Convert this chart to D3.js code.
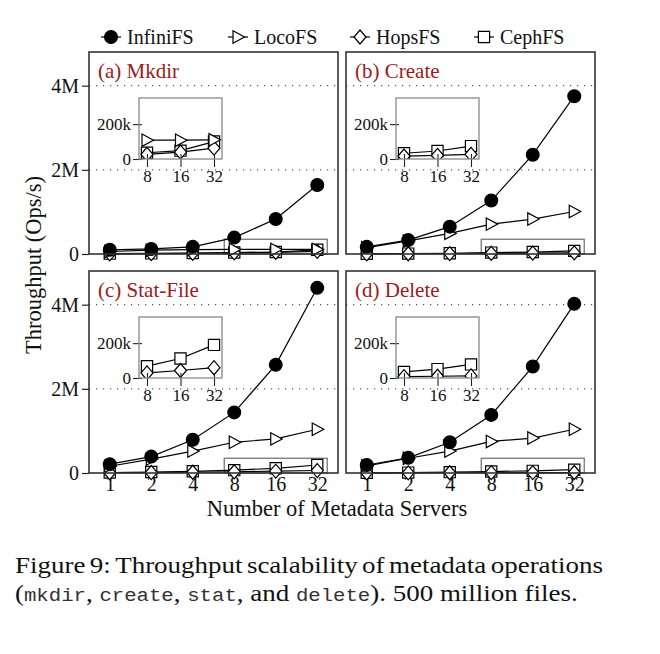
<!DOCTYPE html>
<html>
<head>
<meta charset="utf-8">
<script src="https://cdn.jsdelivr.net/npm/d3@7"></script>
<style>
  html, body { margin: 0; padding: 0; background: #fff; }
  svg { display: block; }
</style>
</head>
<body>
<script>
// ---------------- data ----------------
const servers = [1, 2, 4, 8, 16, 32];
const xTickLabels = ["1", "2", "4", "8", "16", "32"];
const insetServers = [8, 16, 32];
const systems = ["InfiniFS", "LocoFS", "HopsFS", "CephFS"];
const panelTitles = ["(a) Mkdir", "(b) Create", "(c) Stat-File", "(d) Delete"];
const yTickValues = [0, 2e6, 4e6];
const yTickLabels = ["0", "2M", "4M"];
const insetYTickValues = [0, 200e3];
const insetYTickLabels = ["0", "200k"];

const mkdirInfiniFS = [0.10e6, 0.12e6, 0.17e6, 0.39e6, 0.83e6, 1.64e6];
const mkdirLocoFS   = [60e3, 90e3, 105e3, 108e3, 108e3, 110e3];
const mkdirHopsFS   = [5e3, 9e3, 16e3, 27e3, 40e3, 62e3];
const mkdirCephFS   = [8e3, 14e3, 22e3, 36e3, 48e3, 100e3];

const createInfiniFS = [0.17e6, 0.33e6, 0.65e6, 1.27e6, 2.36e6, 3.75e6];
const createLocoFS   = [0.15e6, 0.31e6, 0.49e6, 0.71e6, 0.83e6, 1.01e6];
const createHopsFS   = [3e3, 6e3, 10e3, 17e3, 21e3, 27e3];
const createCephFS   = [5e3, 9e3, 18e3, 33e3, 46e3, 74e3];

const statInfiniFS = [0.21e6, 0.39e6, 0.79e6, 1.44e6, 2.57e6, 4.40e6];
const statLocoFS   = [0.16e6, 0.33e6, 0.52e6, 0.73e6, 0.81e6, 1.04e6];
const statHopsFS   = [6e3, 11e3, 18e3, 29e3, 43e3, 59e3];
const statCephFS   = [12e3, 22e3, 40e3, 68e3, 112e3, 190e3];

const deleteInfiniFS = [0.19e6, 0.36e6, 0.73e6, 1.38e6, 2.53e6, 4.02e6];
const deleteLocoFS   = [0.17e6, 0.35e6, 0.52e6, 0.75e6, 0.83e6, 1.04e6];
const deleteHopsFS   = [2e3, 4e3, 6e3, 8e3, 10e3, 12e3];
const deleteCephFS   = [5e3, 10e3, 20e3, 35e3, 51e3, 78e3];

const captionLine1 = "Figure 9: Throughput scalability of metadata operations";
const captionLine2 = [
  ["(", false], ["mkdir", true], [", ", false], ["create", true], [", ", false],
  ["stat", true], [", and ", false], ["delete", true], ["). 500 million files.", false]
];

// ---------------- layout ----------------
const W = 660, H = 654;
const serif = "'Liberation Serif', 'Times New Roman', serif";
const mono = "'Liberation Mono', 'Courier New', monospace";
const colX = [89, 346], rowY = [52, 271];
const PW = 249, PH = 202;
const titleColor = "#9b1b1b";

const panels = [
  { title: panelTitles[0], col: 0, row: 0, data: [mkdirInfiniFS, mkdirLocoFS, mkdirHopsFS, mkdirCephFS] },
  { title: panelTitles[1], col: 1, row: 0, data: [createInfiniFS, createLocoFS, createHopsFS, createCephFS] },
  { title: panelTitles[2], col: 0, row: 1, data: [statInfiniFS, statLocoFS, statHopsFS, statCephFS] },
  { title: panelTitles[3], col: 1, row: 1, data: [deleteInfiniFS, deleteLocoFS, deleteHopsFS, deleteCephFS] }
];

const svg = d3.select("body").append("svg").attr("width", W).attr("height", H)
  .style("font-family", serif);
const defs = svg.append("defs");

// marker shapes
function markerPath(sys) {
  switch (sys) {
    case "InfiniFS": return d3.symbol().type(d3.symbolCircle).size(Math.PI * 6.4 * 6.4)();
    case "LocoFS": return "M-5,-6.2L6.5,0L-5,6.2Z";
    case "HopsFS": return "M0,-7L6,0L0,7L-6,0Z";
    case "CephFS": return "M-5.6,-5.6H5.6V5.6H-5.6Z";
  }
}
function markerFill(sys) { return sys === "InfiniFS" ? "#000" : "#fff"; }

// ---------------- legend ----------------
const legendX = [111, 238, 360, 484];
const legend = svg.append("g");
systems.forEach((s, i) => {
  const g = legend.append("g").attr("transform", `translate(${legendX[i]},37)`);
  g.append("line").attr("x1", -10).attr("x2", 10).attr("stroke", "#000").attr("stroke-width", 1.2);
  g.append("path").attr("d", markerPath(s)).attr("fill", markerFill(s)).attr("stroke", "#000").attr("stroke-width", 1.2);
  g.append("text").attr("x", 16).attr("y", 6.5).attr("font-size", 20).attr("fill", "#111").text(s);
});

// ---------------- panels ----------------
panels.forEach((p, pi) => {
  const x0 = colX[p.col], y0 = rowY[p.row];
  const g = svg.append("g").attr("transform", `translate(${x0},${y0})`);
  const x = d3.scalePoint().domain(servers).range([0, PW]).padding(0.5);
  const y = d3.scaleLinear().domain([0, 4.8e6]).range([PH, 0]);

  // grid (dotted)
  g.selectAll(".grid").data(yTickValues.filter(v => v > 0)).enter().append("line")
    .attr("x1", 0).attr("x2", PW).attr("y1", d => y(d)).attr("y2", d => y(d))
    .attr("stroke", "#555").attr("stroke-width", 1.1).attr("stroke-dasharray", "1.2,5.8");

  // highlight box
  g.append("rect")
    .attr("x", x(8) - 10).attr("width", x(32) - x(8) + 20)
    .attr("y", y(350e3)).attr("height", y(0) - y(350e3))
    .attr("fill", "none").attr("stroke", "#777").attr("stroke-width", 1.3);

  // x axis ticks (bottom row only)
  if (p.row === 1) {
    const ax = d3.axisBottom(x).tickFormat((d, i) => xTickLabels[i]).tickSizeInner(5).tickSizeOuter(0).tickPadding(-0.8);
    const axg = g.append("g").attr("transform", `translate(0,${PH})`).call(ax);
    axg.select(".domain").remove();
    axg.selectAll(".tick line").attr("y1", -6).attr("y2", 5).attr("stroke", "#222").attr("stroke-width", 1.1);
    axg.selectAll(".tick text").attr("font-size", 20).attr("font-family", serif).attr("fill", "#111").attr("dy", "0.71em");
  }
  // y axis (left column only)
  if (p.col === 0) {
    const ay = d3.axisLeft(y).tickValues(yTickValues).tickFormat((d, i) => yTickLabels[i]).tickSizeInner(7).tickSizeOuter(0).tickPadding(3);
    const ayg = g.append("g").call(ay);
    ayg.select(".domain").remove();
    ayg.selectAll(".tick line").attr("stroke", "#222").attr("stroke-width", 1.2);
    ayg.selectAll(".tick text").attr("font-size", 20).attr("font-family", serif).attr("fill", "#111");
  }

  // series, drawn back to front
  const line = d3.line().x((d, i) => x(servers[i])).y(d => y(d));
  [3, 2, 1, 0].forEach(si => {
    const vals = p.data[si];
    g.append("path").attr("d", line(vals)).attr("fill", "none").attr("stroke", "#000").attr("stroke-width", 1.2);
    g.selectAll(null).data(vals).enter().append("path")
      .attr("transform", (d, i) => `translate(${x(servers[i])},${y(d)})`)
      .attr("d", markerPath(systems[si])).attr("fill", markerFill(systems[si]))
      .attr("stroke", "#000").attr("stroke-width", 1.2);
  });

  // frame
  g.append("rect").attr("width", PW).attr("height", PH).attr("fill", "none")
    .attr("stroke", "#333").attr("stroke-width", 1.6);

  // title
  g.append("text").attr("x", 9).attr("y", 26).attr("font-size", 21).attr("fill", titleColor).text(p.title);

  // inset
  const ix = 50, iy = 46, iw = 83, ih = 61;
  const clipId = "inset-clip-" + pi;
  defs.append("clipPath").attr("id", clipId).append("rect").attr("width", iw).attr("height", ih);
  const ig = g.append("g").attr("transform", `translate(${ix},${iy})`);
  const xi = d3.scalePoint().domain(insetServers).range([8, 75]);
  const yi = d3.scaleLinear().domain([0, 350e3]).range([ih, 0]);
  ig.append("rect").attr("width", iw).attr("height", ih).attr("fill", "#fff");
  const content = ig.append("g").attr("clip-path", `url(#${clipId})`);
  const iline = d3.line().x((d, i) => xi(insetServers[i])).y(d => yi(d));
  [3, 2, 1].forEach(si => {
    const vals = p.data[si].slice(3);
    content.append("path").attr("d", iline(vals)).attr("fill", "none").attr("stroke", "#000").attr("stroke-width", 1.2);
    content.selectAll(null).data(vals).enter().append("path")
      .attr("transform", (d, i) => `translate(${xi(insetServers[i])},${yi(d)})`)
      .attr("d", markerPath(systems[si])).attr("fill", markerFill(systems[si]))
      .attr("stroke", "#000").attr("stroke-width", 1.2);
  });
  // inset axes
  const iax = d3.axisBottom(xi).tickSizeInner(8).tickSizeOuter(0).tickPadding(3);
  const iaxg = ig.append("g").attr("transform", `translate(0,${ih})`).call(iax);
  iaxg.select(".domain").remove();
  iaxg.selectAll(".tick line").attr("y1", -5).attr("y2", 8).attr("stroke", "#222").attr("stroke-width", 1.1);
  iaxg.selectAll(".tick text").attr("font-size", 17).attr("font-family", serif).attr("fill", "#111");
  const iay = d3.axisLeft(yi).tickValues(insetYTickValues).tickFormat((d, i) => insetYTickLabels[i]).tickSizeInner(6).tickSizeOuter(0).tickPadding(2);
  const iayg = ig.append("g").call(iay);
  iayg.select(".domain").remove();
  iayg.selectAll(".tick line").attr("x1", 3).attr("x2", -6).attr("stroke", "#222").attr("stroke-width", 1.1);
  iayg.selectAll(".tick text").attr("font-size", 17).attr("font-family", serif).attr("fill", "#111");
  ig.append("rect").attr("width", iw).attr("height", ih).attr("fill", "none")
    .attr("stroke", "#888").attr("stroke-width", 1.3);
});

// ---------------- axis titles ----------------
svg.append("text").attr("transform", "translate(41,265) rotate(-90)")
  .attr("text-anchor", "middle").attr("font-size", 22.5).attr("fill", "#111").text("Throughput (Ops/s)");
svg.append("text").attr("x", 337).attr("y", 516)
  .attr("text-anchor", "middle").attr("font-size", 22.5).attr("fill", "#111").text("Number of Metadata Servers");

// ---------------- caption ----------------
const capSize = 23.5, monoSize = 18;
const left = 15, right1 = 603, right2 = 578;

// line 2 first: determine horizontal stretch factor
const cap2g = svg.append("g");
const cap2 = cap2g.append("text").attr("x", 0).attr("y", 0).attr("font-size", capSize).attr("fill", "#111");
captionLine2.forEach(([t, isMono]) => {
  cap2.append("tspan").attr("font-family", isMono ? mono : serif)
    .attr("font-size", isMono ? monoSize : capSize).attr("fill", isMono ? "#333" : "#111")
    .attr("xml:space", "preserve").style("white-space", "pre").text(t);
});
const w2 = cap2.node().getComputedTextLength();
const sx = (right2 - left) / w2;
cap2g.attr("transform", `translate(${left},601) scale(${sx},1)`);

// line 1: justified across the full width
const cap1 = svg.append("g").attr("transform", `translate(${left},573) scale(${sx},1)`);
const words = captionLine1.split(" ");
const wNodes = words.map(w => cap1.append("text").attr("y", 0).attr("font-size", capSize).attr("fill", "#111").text(w));
const widths = wNodes.map(n => n.node().getComputedTextLength());
const gap = ((right1 - left) / sx - d3.sum(widths)) / (words.length - 1);
let cx = 0;
wNodes.forEach((n, i) => { n.attr("x", cx); cx += widths[i] + gap; });
</script>
</body>
</html>
